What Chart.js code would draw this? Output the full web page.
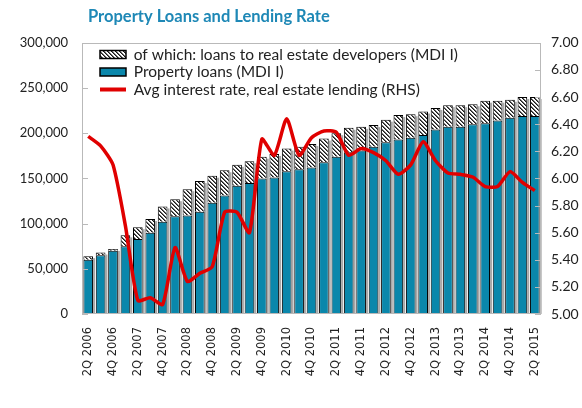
<!DOCTYPE html>
<html>
<head>
<meta charset="utf-8">
<script src="https://cdn.jsdelivr.net/npm/chart.js@4/dist/chart.umd.min.js"></script>
<style>
  html, body { margin: 0; padding: 0; background: #fff; }
  #wrap { width: 582px; height: 408px; }
</style>
</head>
<body>
<div id="wrap"><canvas id="loans-chart"></canvas></div>
<script>
const quarters = ['2Q 2006', '3Q 2006', '4Q 2006', '1Q 2007', '2Q 2007', '3Q 2007', '4Q 2007',
  '1Q 2008', '2Q 2008', '3Q 2008', '4Q 2008', '1Q 2009', '2Q 2009', '3Q 2009', '4Q 2009',
  '1Q 2010', '2Q 2010', '3Q 2010', '4Q 2010', '1Q 2011', '2Q 2011', '3Q 2011', '4Q 2011',
  '1Q 2012', '2Q 2012', '3Q 2012', '4Q 2012', '1Q 2013', '2Q 2013', '3Q 2013', '4Q 2013',
  '1Q 2014', '2Q 2014', '3Q 2014', '4Q 2014', '1Q 2015', '2Q 2015']

// property loans excluding the developer part, MDI I
const property_loans = [60000, 65000, 70000, 75000, 83000, 90000, 102000, 108000, 109000, 113000,
  123000, 131000, 142000, 145000, 150000, 151000, 158000, 160000, 162000, 168000, 174000, 179000,
  181000, 185000, 190000, 193000, 195000, 198000, 204000, 207000, 207000, 210000, 211000, 214000,
  217000, 219000, 219000]

const developer_loans = [4000, 3000, 2000, 12000, 13000, 15000, 17000, 19000, 29000, 34000,
  30000, 28000, 23000, 24000, 24000, 26000, 25000, 25000, 26000, 26000, 26000, 27000, 26000,
  24000, 25000, 27000, 26000, 26000, 24000, 24000, 24000, 22000, 25000, 22000, 20000, 21000, 21000]

const interest_rate = [6.31, 6.24, 6.10, 5.65, 5.10, 5.12, 5.07, 5.49, 5.24, 5.30, 5.35, 5.75, 5.75,
  5.60, 6.29, 6.17, 6.44, 6.17, 6.30, 6.35, 6.34, 6.17, 6.22, 6.19, 6.13, 6.03, 6.10, 6.27, 6.13,
  6.04, 6.03, 6.01, 5.94, 5.94, 6.05, 5.97, 5.91]

const left_ticks = [0, 50000, 100000, 150000, 200000, 250000, 300000]
const right_ticks = [5.0, 5.2, 5.4, 5.6, 5.8, 6.0, 6.2, 6.4, 6.6, 6.8, 7.0]

// small diagonal hatch for the developer share
function makeHatch() {
  const c = document.createElement('canvas')
  c.width = c.height = 4
  const g = c.getContext('2d')
  g.fillStyle = '#fff'
  g.fillRect(0, 0, 4, 4)
  for (let i = 0; i < 4; i++) {
    g.fillStyle = '#1a1a1a'
    g.fillRect(i, i, 1, 1)
    g.fillStyle = '#6a6a6a'
    g.fillRect((i + 1) % 4, i, 1, 1)
  }
  return g.createPattern(c, 'repeat')
}

// grey drop shadow on the right side of each stacked column
const barShadow = {
  id: 'barShadow',
  beforeDatasetsDraw(chart) {
    const lower = chart.getDatasetMeta(0).data
    const upper = chart.getDatasetMeta(1).data
    const ctx = chart.ctx
    ctx.save()
    ctx.fillStyle = '#a8a8a8'
    lower.forEach((el, i) => {
      const top = upper[i].y
      ctx.fillRect(el.x + el.width / 2, top + 2, 2, el.base - top - 2)
    })
    ctx.restore()
  }
}

// plot frame with small inward tick marks on both value axes
const plotFrame = {
  id: 'plotFrame',
  afterDatasetsDraw(chart) {
    const { ctx, chartArea: a, scales } = chart
    ctx.save()
    ctx.strokeStyle = '#b9b9b9'
    ctx.lineWidth = 1
    ctx.strokeRect(Math.round(a.left) + 0.5, Math.round(a.top) + 0.5,
      Math.round(a.width) - 1, Math.round(a.height) - 1)
    ctx.beginPath()
    scales.y.ticks.forEach(t => {
      const y = Math.round(scales.y.getPixelForValue(t.value)) + 0.5
      ctx.moveTo(a.left, y)
      ctx.lineTo(a.left + 6, y)
    })
    scales.y1.ticks.forEach(t => {
      const y = Math.round(scales.y1.getPixelForValue(t.value)) + 0.5
      ctx.moveTo(a.right - 6, y)
      ctx.lineTo(a.right, y)
    })
    ctx.stroke()
    ctx.restore()
  }
}

// legend sits inside the plot, title starts a little right of the frame
const boxNudge = {
  id: 'boxNudge',
  afterLayout(chart) {
    chart.legend.left = chart.chartArea.left + 16
    chart.legend.top = chart.chartArea.top + 2
    chart.titleBlock.left += 6
    chart.titleBlock.right += 6
  }
}

Chart.defaults.font.family = 'Lato'
Chart.defaults.color = '#222'

const legend_rank = [1, 0, 2]

const ctx1 = document.getElementById('loans-chart').getContext('2d')

let loans_chart = new Chart(ctx1, {
  data: {
    labels: quarters,
    datasets: [{
      type: 'bar',
      label: 'Property loans (MDI I)',
      data: property_loans,
      backgroundColor: '#0a87ab',
      borderColor: '#000',
      borderWidth: 1,
      stack: 'loans',
      order: 1,
      barPercentage: 0.78,
      categoryPercentage: 1,
      yAxisID: 'y'
    }, {
      type: 'bar',
      label: 'of which: loans to real estate developers (MDI I)',
      data: developer_loans,
      backgroundColor: makeHatch(),
      borderColor: '#000',
      borderWidth: 1,
      stack: 'loans',
      order: 1,
      barPercentage: 0.78,
      categoryPercentage: 1,
      yAxisID: 'y'
    }, {
      type: 'line',
      label: 'Avg interest rate, real estate lending (RHS)',
      data: interest_rate,
      borderColor: '#e00000',
      backgroundColor: '#e00000',
      borderWidth: 3.5,
      pointRadius: 0,
      tension: 0.2,
      order: 0,
      yAxisID: 'y1'
    }]
  },
  options: {
    responsive: true,
    maintainAspectRatio: false,
    animation: false,
    layout: { padding: { left: 20, right: 1, bottom: 30 } },
    plugins: {
      title: {
        display: true,
        text: 'Property Loans and Lending Rate',
        align: 'start',
        fullSize: false,
        color: '#1e88b6',
        font: { size: 16.5, weight: 'bold' },
        padding: { top: 7, bottom: 16 }
      },
      legend: {
        position: 'chartArea',
        align: 'start',
        labels: {
          usePointStyle: true,
          pointStyleWidth: 26,
          boxHeight: 8,
          padding: 2,
          color: '#222',
          font: { size: 15.5, lineHeight: 1 },
          sort: (a, b) => legend_rank[a.datasetIndex] - legend_rank[b.datasetIndex],
          generateLabels(chart) {
            const items = Chart.defaults.plugins.legend.labels.generateLabels(chart)
            items.forEach(item => {
              if (item.datasetIndex === 2) {
                item.pointStyle = 'line'
                item.lineWidth = 4
              } else {
                item.pointStyle = 'rect'
                item.lineWidth = 1.5
              }
            })
            return items
          }
        }
      },
      tooltip: { enabled: false }
    },
    scales: {
      x: {
        stacked: true,
        afterFit: axis => { axis.height = 64 },
        grid: { display: false, drawTicks: false },
        border: { display: false },
        ticks: {
          autoSkip: false,
          maxRotation: 90,
          minRotation: 90,
          padding: 13,
          color: '#222',
          font: { family: 'DejaVu Sans', size: 11.5 },
          callback: (v, i) => (i % 2 === 0 ? quarters[i] : '')
        }
      },
      y: {
        stacked: true,
        position: 'left',
        min: 0,
        max: 300000,
        afterBuildTicks: axis => { axis.ticks = left_ticks.map(v => ({ value: v })) },
        afterFit: axis => { axis.width = 62 },
        grid: { display: false, drawTicks: false },
        border: { display: false },
        ticks: {
          padding: 14,
          font: { size: 13 },
          callback: v => v.toLocaleString('en-US')
        }
      },
      y1: {
        position: 'right',
        min: 5,
        max: 7,
        afterBuildTicks: axis => { axis.ticks = right_ticks.map(v => ({ value: v })) },
        afterFit: axis => { axis.width = 40 },
        grid: { display: false, drawTicks: false },
        border: { display: false },
        ticks: {
          padding: 10,
          font: { size: 14 },
          callback: v => v.toFixed(2)
        }
      }
    }
  },
  plugins: [barShadow, plotFrame, boxNudge]
})
</script>
</body>
</html>
